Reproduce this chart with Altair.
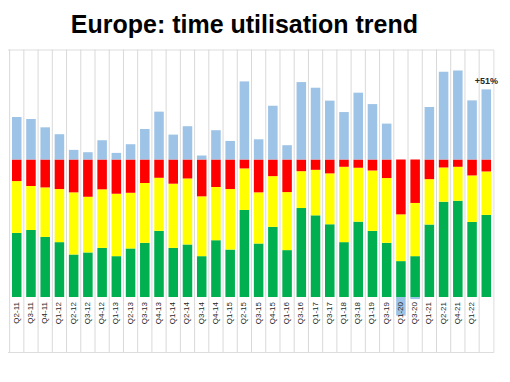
import altair as alt
import pandas as pd

quarters = ["Q1-11", "Q2-11", "Q3-11", "Q4-11", "Q1-12", "Q2-12", "Q3-12", "Q4-12",
            "Q1-13", "Q2-13", "Q3-13", "Q4-13", "Q1-14", "Q2-14", "Q3-14", "Q4-14",
            "Q1-15", "Q2-15", "Q3-15", "Q4-15", "Q1-16", "Q3-16", "Q1-17", "Q3-17",
            "Q1-18", "Q3-18", "Q1-19", "Q3-19", "Q1-20", "Q3-20", "Q1-21", "Q2-21",
            "Q4-21", "Q1-22", "Q2-22"]
hidden_label = "Q2-22"

green = [56.5, 46.6, 48.8, 43.7, 39.9, 30.9, 32.4, 35.7, 29.7, 35.3, 39.4, 48.1,
         35.7, 38.2, 29.7, 41.3, 34.5, 63.3, 38.9, 51.0, 34.1, 64.7, 59.4, 52.9,
         39.9, 54.8, 48.1, 39.4, 26.1, 29.7, 52.7, 69.3, 70.0, 54.6, 59.7]
yellow = [31.2, 37.7, 31.9, 36.0, 38.6, 45.2, 40.5, 42.6, 45.4, 40.5, 43.5, 38.6,
          46.7, 48.0, 43.5, 38.7, 44.0, 30.2, 37.2, 36.9, 42.2, 26.8, 33.1, 37.0,
          54.8, 39.2, 43.9, 47.1, 34.0, 38.7, 33.0, 24.9, 24.7, 33.8, 31.6]
red = [12.3, 15.7, 19.3, 20.3, 21.5, 23.9, 27.1, 21.7, 24.9, 24.2, 17.1, 13.3,
       17.6, 13.8, 26.8, 20.0, 21.5, 6.5, 23.9, 12.1, 23.7, 8.5, 7.5, 10.1,
       5.3, 6.0, 8.0, 13.5, 39.9, 31.6, 14.3, 5.8, 5.3, 11.6, 8.7]
blue = [44.2, 30.9, 29.5, 23.4, 18.4, 7.0, 5.3, 14.0, 4.8, 11.1, 22.2, 34.8,
        18.1, 24.2, 2.9, 21.3, 13.5, 56.8, 14.7, 39.1, 10.4, 56.3, 52.2, 42.8,
        34.5, 48.6, 40.3, 26.1, -13.5, -1.5, 38.2, 63.8, 64.7, 43.0, 51.0]

series = ["Productive time", "Available time", "Lost time", "Growth"]
colors = ["#00b050", "#ffff00", "#ff0000", "#9dc3e6"]

rows = []
for s_idx, (name, vals) in enumerate(zip(series, [green, yellow, red, blue])):
    for q, v in zip(quarters, vals):
        rows.append({"quarter": q, "series": name, "value": v, "order": s_idx})
df = pd.DataFrame(rows)

cat_df = pd.DataFrame({
    "quarter": quarters,
    "label": ["" if q == hidden_label else q for q in quarters],
})

label_df = pd.DataFrame({
    "quarter": [quarters[-1]],
    "top": [green[-1] + yellow[-1] + red[-1] + blue[-1]],
    "text": [f"+{blue[-1]:.0f}%"],
})

W, H = 498, 302.5
YMIN, YMAX = -40, 180
FONT = "Liberation Sans"

xscale = alt.Scale(domain=quarters, paddingInner=0, paddingOuter=0)
yscale = alt.Scale(domain=[YMIN, YMAX], nice=False, zero=False)

grid = alt.Chart(cat_df).mark_rule(color="#d9d9d9", strokeWidth=1).encode(
    x=alt.X("quarter:N", sort=quarters, scale=xscale, bandPosition=0, axis=None)
)

bars = alt.Chart(df).mark_bar(width=alt.RelativeBandSize(0.67)).encode(
    x=alt.X("quarter:N", sort=quarters, scale=xscale, axis=None),
    y=alt.Y("value:Q", stack="zero", scale=yscale,
            axis=alt.Axis(values=list(range(YMIN, YMAX + 1, 20)), grid=True, labels=False,
                          ticks=False, domain=False, title=None, gridColor="#c0c0c0")),
    color=alt.Color("series:N", scale=alt.Scale(domain=series, range=colors),
                    legend=alt.Legend(title=None, orient="none", legendX=511.6, legendY=121,
                                      symbolType="square", symbolSize=28, rowPadding=23.5,
                                      labelFontSize=10, labelFont=FONT, padding=0,
                                      symbolStrokeWidth=0)),
    order=alt.Order("order:Q", sort="ascending"),
)

xlabels = alt.Chart(cat_df).mark_text(
    angle=270, align="right", baseline="middle", dx=-5, fontSize=8, font=FONT,
    color="#262626"
).encode(
    x=alt.X("quarter:N", sort=quarters, scale=xscale, axis=None),
    y=alt.Y(datum=0, scale=yscale, axis=None),
    text="label:N",
)

text = alt.Chart(label_df).mark_text(
    dy=-3, baseline="bottom", fontWeight="bold", fontSize=9, font=FONT, color="#262626"
).encode(
    x=alt.X("quarter:N", sort=quarters, scale=xscale, axis=None),
    y=alt.Y("top:Q", scale=yscale, axis=None),
    text="text:N",
)

chart = alt.layer(grid, bars, xlabels, text).properties(
    width=W, height=H,
    title=alt.TitleParams("Europe: time utilisation trend", font=FONT, fontSize=25,
                          fontWeight="bold", color="#000000", anchor="middle",
                          offset=11),
    autosize=alt.AutoSizeParams(type="none"),
    padding={"left": -12.6, "top": 41.5, "right": 8.6, "bottom": 4},
).configure_view(stroke="#bfbfbf", strokeWidth=1).configure(background="white")

chart.save("out.html", embed_options={"renderer": "svg", "actions": False})
